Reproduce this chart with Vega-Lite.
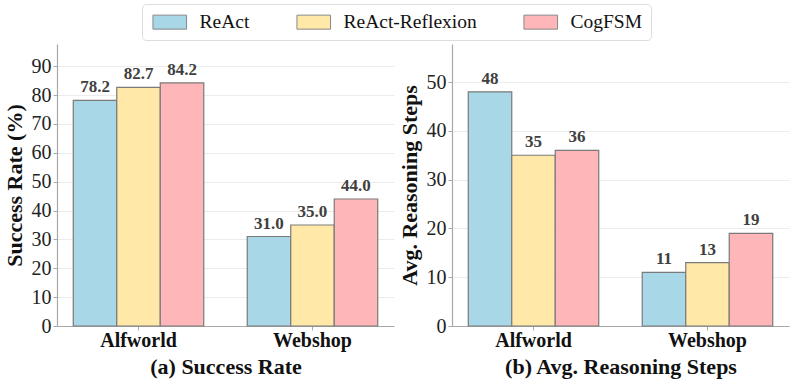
{
  "$schema": "https://vega.github.io/schema/vega-lite/v6.json",
  "padding": {"left": 3, "top": 3, "right": 4, "bottom": 5},
  "background": "white",
  "data": {"values": [
    {"metric": "sr", "dataset": "Alfworld", "method": "ReAct", "value": 78.2},
    {"metric": "sr", "dataset": "Alfworld", "method": "ReAct-Reflexion", "value": 82.7},
    {"metric": "sr", "dataset": "Alfworld", "method": "CogFSM", "value": 84.2},
    {"metric": "sr", "dataset": "Webshop", "method": "ReAct", "value": 31.0},
    {"metric": "sr", "dataset": "Webshop", "method": "ReAct-Reflexion", "value": 35.0},
    {"metric": "sr", "dataset": "Webshop", "method": "CogFSM", "value": 44.0},
    {"metric": "steps", "dataset": "Alfworld", "method": "ReAct", "value": 48},
    {"metric": "steps", "dataset": "Alfworld", "method": "ReAct-Reflexion", "value": 35},
    {"metric": "steps", "dataset": "Alfworld", "method": "CogFSM", "value": 36},
    {"metric": "steps", "dataset": "Webshop", "method": "ReAct", "value": 11},
    {"metric": "steps", "dataset": "Webshop", "method": "ReAct-Reflexion", "value": 13},
    {"metric": "steps", "dataset": "Webshop", "method": "CogFSM", "value": 19}
  ]},
  "spacing": 4,
  "hconcat": [
    {
      "width": 337, "height": 282,
      "transform": [{"filter": "datum.metric == 'sr'"}],
      "encoding": {
        "x": {"field": "dataset", "type": "nominal", "sort": ["Alfworld", "Webshop"],
              "scale": {"paddingInner": 0.25, "paddingOuter": 0.0935},
              "axis": {"title": "(a) Success Rate", "labelAngle": 0}},
        "xOffset": {"field": "method", "type": "nominal", "sort": ["ReAct", "ReAct-Reflexion", "CogFSM"],
                    "scale": {"paddingInner": 0, "paddingOuter": 0}},
        "y": {"field": "value", "type": "quantitative",
              "scale": {"domain": [0, 97.7], "nice": false},
              "axis": {"title": "Success Rate (%)", "values": [0, 10, 20, 30, 40, 50, 60, 70, 80, 90]}}
      },
      "layer": [
        {"mark": {"type": "bar", "stroke": "#7a7a7a", "strokeWidth": 1.2},
         "encoding": {"color": {"field": "method", "type": "nominal", "sort": ["ReAct", "ReAct-Reflexion", "CogFSM"],
           "scale": {"domain": ["ReAct", "ReAct-Reflexion", "CogFSM"], "range": ["#A8D8E8", "#FFE8A8", "#FFB6B9"]},
           "legend": {"title": null}}}},
        {"mark": {"type": "text", "baseline": "bottom", "dy": -4, "font": "Liberation Serif", "fontWeight": "bold", "fontSize": 17, "color": "#404040"},
         "encoding": {"text": {"field": "value", "type": "quantitative", "format": ".1f"}}}
      ]
    },
    {
      "width": 337, "height": 282,
      "transform": [{"filter": "datum.metric == 'steps'"}],
      "encoding": {
        "x": {"field": "dataset", "type": "nominal", "sort": ["Alfworld", "Webshop"],
              "scale": {"paddingInner": 0.25, "paddingOuter": 0.0935},
              "axis": {"title": "(b) Avg. Reasoning Steps", "labelAngle": 0}},
        "xOffset": {"field": "method", "type": "nominal", "sort": ["ReAct", "ReAct-Reflexion", "CogFSM"],
                    "scale": {"paddingInner": 0, "paddingOuter": 0}},
        "y": {"field": "value", "type": "quantitative",
              "scale": {"domain": [0, 57.8], "nice": false},
              "axis": {"title": "Avg. Reasoning Steps", "values": [0, 10, 20, 30, 40, 50]}}
      },
      "layer": [
        {"mark": {"type": "bar", "stroke": "#7a7a7a", "strokeWidth": 1.2},
         "encoding": {"color": {"field": "method", "type": "nominal", "sort": ["ReAct", "ReAct-Reflexion", "CogFSM"],
           "scale": {"domain": ["ReAct", "ReAct-Reflexion", "CogFSM"], "range": ["#A8D8E8", "#FFE8A8", "#FFB6B9"]},
           "legend": {"title": null}}}},
        {"mark": {"type": "text", "baseline": "bottom", "dy": -4, "font": "Liberation Serif", "fontWeight": "bold", "fontSize": 17, "color": "#404040"},
         "encoding": {"text": {"field": "value", "type": "quantitative", "format": "d"}}}
      ]
    }
  ],
  "resolve": {"scale": {"color": "shared"}},
  "config": {
    "view": {"stroke": null},
    "font": "Liberation Serif",
    "axis": {
      "labelFont": "Liberation Serif", "titleFont": "Liberation Serif",
      "labelFontSize": 20, "labelColor": "#222",
      "titleFontSize": 22, "titleFontWeight": "bold", "titleColor": "#111",
      "domainColor": "#a8a8a8", "domainWidth": 1.2,
      "tickColor": "#a8a8a8", "tickSize": 4,
      "gridColor": "#ececec", "gridWidth": 1
    },
    "axisX": {"labelFontWeight": "bold", "labelFontSize": 20, "labelColor": "#111", "grid": false, "titleFontSize": 22, "titlePadding": 6, "labelPadding": 0},
    "axisY": {"grid": true, "titlePadding": 5, "labelPadding": 2},
    "legend": {
      "orient": "none", "legendX": 85, "legendY": -40,
      "direction": "horizontal",
      "labelFont": "Liberation Serif", "labelFontSize": 19.5, "labelColor": "#111",
      "symbolType": "M-2.4,-1H2.4V1H-2.4Z", "symbolSize": 196, "symbolOffset": 10,
      "symbolStrokeColor": "#888", "symbolStrokeWidth": 1,
      "columnPadding": 44, "labelOffset": 20, "padding": 8,
      "strokeColor": "#dddddd", "fillColor": "white", "cornerRadius": 4
    }
  }
}
